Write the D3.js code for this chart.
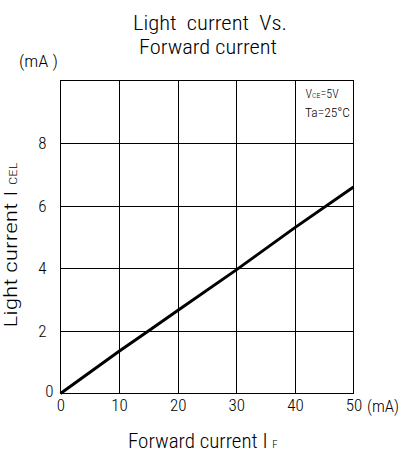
<!DOCTYPE html>
<html><head><meta charset="utf-8">
<script src="https://cdn.jsdelivr.net/npm/d3@7"></script>
<style>body{margin:0;background:#fff}text{font-family:"Roboto Condensed","Liberation Sans",sans-serif;font-weight:300;fill:#000}</style>
</head><body><svg id="c" width="417" height="454"></svg>
<script>
const forwardCurrent = [0, 10, 15, 20, 30, 40, 50];
const lightCurrent = [0, 1.35, 2.0, 2.65, 3.95, 5.3, 6.6];
const xTicks = [0, 10, 20, 30, 40, 50];
const yTicks = [0, 2, 4, 6, 8];

const svg = d3.select("#c");
const x = d3.scaleLinear().domain([0, 50]).range([60.5, 353.5]);
const y = d3.scaleLinear().domain([0, 10]).range([393.5, 80.5]);

// grid
const g = svg.append("g");
g.selectAll(".vx").data(xTicks.slice(1, -1)).join("line")
  .attr("x1", d => Math.round(x(d)) + 0.5).attr("x2", d => Math.round(x(d)) + 0.5).attr("y1", y(0)).attr("y2", y(10))
  .attr("stroke", "#000").attr("stroke-width", 1);
g.selectAll(".hy").data(yTicks.slice(1)).join("line")
  .attr("y1", d => Math.round(y(d)) + 0.5).attr("y2", d => Math.round(y(d)) + 0.5).attr("x1", x(0)).attr("x2", x(50))
  .attr("stroke", "#000").attr("stroke-width", 1);
g.append("rect").attr("x", x(0)).attr("y", y(10)).attr("width", x(50) - x(0)).attr("height", y(0) - y(10))
  .attr("fill", "none").attr("stroke", "#000").attr("stroke-width", 1);

// axes labels
const xa = svg.append("g").attr("transform", `translate(0,${y(0)})`)
  .call(d3.axisBottom(x).tickValues(xTicks).tickSize(0).tickPadding(5).tickFormat(d3.format("d")));
xa.select(".domain").remove();
xa.selectAll("text").attr("font-size", 17).style("font-family", null);
const ya = svg.append("g").attr("transform", `translate(${x(0)},0)`)
  .call(d3.axisLeft(y).tickValues(yTicks).tickSize(0).tickPadding(14).tickFormat(d3.format("d")));
ya.select(".domain").remove();
ya.selectAll("text").attr("font-size", 17).style("font-family", null);
ya.selectAll(".tick").filter(d => d === 0).select("text").attr("x", -7).attr("dy", "0.15em");

// data line
svg.append("path").datum(forwardCurrent.map((v, i) => [v, lightCurrent[i]]))
  .attr("d", d3.line().x(d => x(d[0])).y(d => y(d[1])))
  .attr("fill", "none").attr("stroke", "#000").attr("stroke-width", 3);

// texts
svg.append("text").attr("x", 133).attr("y", 30).attr("font-size", 21)
  .attr("xml:space", "preserve").attr("textLength", 154).attr("lengthAdjust", "spacingAndGlyphs").text("Light  current  Vs.");
svg.append("text").attr("x", 139).attr("y", 54).attr("font-size", 21)
  .attr("textLength", 138).attr("lengthAdjust", "spacingAndGlyphs").text("Forward current");
svg.append("text").attr("x", 19).attr("y", 67).attr("font-size", 17)
  .attr("xml:space", "preserve").attr("textLength", 39).attr("lengthAdjust", "spacingAndGlyphs").text("(mA )");
svg.append("text").attr("x", 367).attr("y", 411.5).attr("font-size", 17)
  .attr("textLength", 32).attr("lengthAdjust", "spacingAndGlyphs").text("(mA)");

const a1 = svg.append("text").attr("x", 305.5).attr("y", 97.5).attr("font-size", 12);
a1.append("tspan").text("V");
a1.append("tspan").attr("font-size", 8).text("CE");
a1.append("tspan").text("=5V");
svg.append("text").attr("x", 305).attr("y", 116.5).attr("font-size", 12.5)
  .attr("textLength", 45).attr("lengthAdjust", "spacingAndGlyphs").text("Ta=25°C");

const xt = svg.append("text").attr("x", 128).attr("y", 448).attr("font-size", 21).attr("xml:space", "preserve");
xt.append("tspan").text("Forward current I ");
xt.append("tspan").attr("font-size", 11).text("F");

const yt = svg.append("text").attr("transform", "translate(17,245) rotate(-90)").attr("text-anchor", "middle").attr("font-size", 19)
  .attr("xml:space", "preserve").attr("textLength", 165).attr("lengthAdjust", "spacingAndGlyphs");
yt.append("tspan").text("Light current I ");
yt.append("tspan").attr("font-size", 11).text("CEL");
</script></body></html>
